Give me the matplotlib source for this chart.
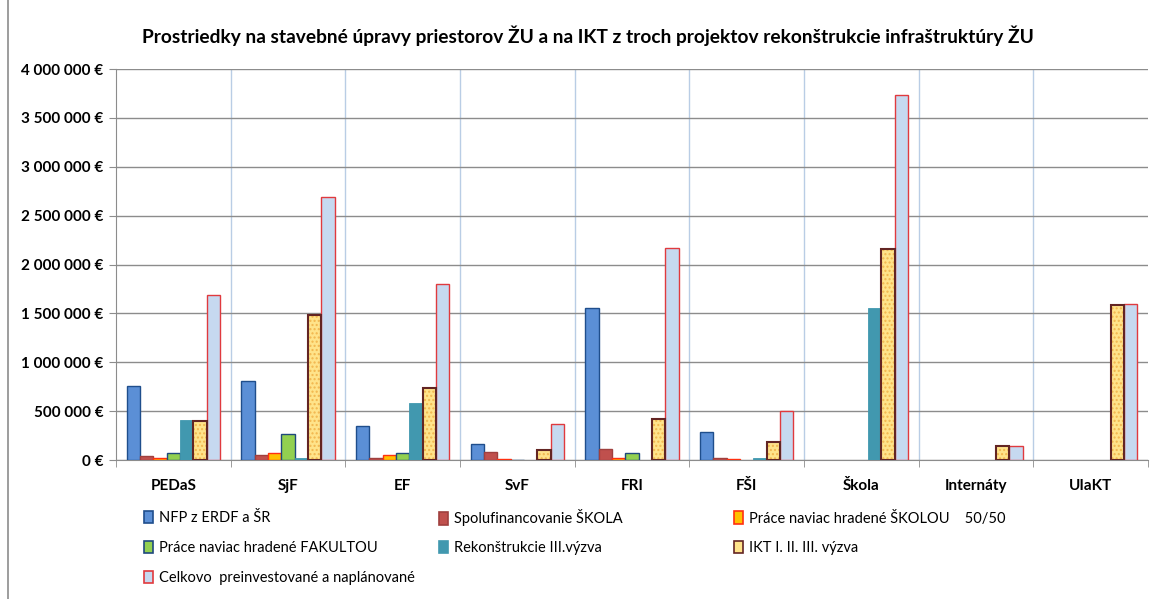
import matplotlib
matplotlib.use("Agg")
import matplotlib.pyplot as plt
import numpy as np
from matplotlib.ticker import FuncFormatter, MultipleLocator
from matplotlib.lines import Line2D

plt.rcParams['font.family'] = ['Lato', 'DejaVu Sans']

categories = ["PEDaS", "SjF", "EF", "SvF", "FRI", "FŠI", "Škola", "Internáty", "UIaKT"]
series_names = ["NFP z ERDF a ŠR", "Spolufinancovanie ŠKOLA",
                "Práce naviac hradené ŠKOLOU    50/50", "Práce naviac hradené FAKULTOU",
                "Rekonštrukcie III.výzva", "IKT I. II. III. výzva",
                "Celkovo  preinvestované a naplánované"]
nfp = [752000, 806000, 347000, 167000, 1558000, 286000, 0, 0, 0]
spolu = [41000, 51000, 24000, 85000, 109000, 17000, 0, 0, 0]
skola = [17000, 68000, 51000, 7000, 20000, 10000, 0, 0, 0]
fakulta = [68000, 265000, 68000, 5000, 68000, 0, 0, 0, 0]
rekon = [412000, 20000, 588000, 0, 0, 24000, 1551000, 0, 0]
ikt = [395000, 1480000, 735000, 105000, 415000, 180000, 2157000, 143000, 1585000]
celkovo = [1684000, 2690000, 1803000, 367000, 2169000, 500000, 3729000, 145000, 1592000]

series = [nfp, spolu, skola, fakulta, rekon, ikt, celkovo]
fills = ["#5B8FD6", "#C0504D", "#FFC000", "#92D050", "#4198AF", "#FFE38A", "#C6D9F0"]
edges = ["#1F4E8C", "#A0403E", "#FF3010", "#1F497D", "#4198AF", "#632523", "#E03A3E"]
lws = [1.0, 1.0, 1.0, 1.0, 0.6, 1.5, 1.0]

fig = plt.figure(figsize=(11.54, 5.99), dpi=100)
W, H = 1154, 599
ax = fig.add_axes([116 / W, 1 - 460 / H, (1148 - 116) / W, (460 - 69) / H])

x = np.arange(len(categories))
bw = 0.116
handles = []
for i, (vals, fc, ec, lw) in enumerate(zip(series, fills, edges, lws)):
    pos = x + (i - 3) * bw
    v = np.array(vals, dtype=float)
    mask = v > 0
    if i == 5:
        ax.bar(pos[mask], v[mask], bw, color=fc, edgecolor="#F2B64E", hatch="....",
               linewidth=0, zorder=3)
        ax.bar(pos[mask], v[mask], bw, fill=False, edgecolor=ec, linewidth=lw, zorder=4)
    else:
        ax.bar(pos[mask], v[mask], bw, color=fc, edgecolor=ec, linewidth=lw, zorder=3)
    handles.append(plt.Rectangle((0, 0), 1, 1, facecolor=fc, edgecolor=ec, linewidth=1.2))

ax.set_xlim(-0.5, len(categories) - 0.5)
ax.set_ylim(0, 4000000)
ax.yaxis.set_major_locator(MultipleLocator(500000))


def fmt(v, p):
    s = f"{int(v):,}".replace(",", " ")
    return f"{s} €"


ax.yaxis.set_major_formatter(FuncFormatter(fmt))
ax.grid(axis='y', color="#8C8C8C", linewidth=1.0, zorder=0)
for b in np.arange(0.5, len(categories) - 0.5, 1):
    ax.axvline(b, color="#B9CDE5", linewidth=1.0, zorder=0)

ax.set_xticks(x)
ax.set_xticklabels(categories, fontweight='bold', fontsize=11)
ax.tick_params(axis='x', length=0, pad=14)
ax.set_xticks(np.arange(-0.5, len(categories), 1), minor=True)
ax.tick_params(axis='x', which='minor', length=5, color="#8C8C8C")
ax.tick_params(axis='y', length=5, color="#8C8C8C", labelsize=11, pad=4)
for lab in ax.get_yticklabels():
    lab.set_fontweight('bold')
for s in ['top', 'right']:
    ax.spines[s].set_visible(False)
ax.spines['left'].set_color("#8C8C8C")
ax.spines['bottom'].set_color("#8C8C8C")

fig.text(588 / W, 1 - 36 / H,
         "Prostriedky na stavebné úpravy priestorov ŽU a na IKT z troch projektov rekonštrukcie infraštruktúry ŽU",
         ha='center', va='center', fontsize=13.8, fontweight='bold')

# legend entries placed in a 3-column grid (row-major order)
colx = [144, 439, 734]
rowy = [518, 548, 578]
for k in range(len(series_names)):
    r, c = divmod(k, 3)
    leg = fig.legend([handles[k]], [series_names[k]],
                     loc='center left', bbox_to_anchor=(colx[c] / W, 1 - rowy[r] / H),
                     frameon=False, fontsize=10.5, handlelength=0.6, handleheight=0.9,
                     handletextpad=0.4, borderaxespad=0, borderpad=0)

fig.add_artist(Line2D([8 / W, 8 / W], [0, 1], color="#8C8C8C", linewidth=1.2,
                      transform=fig.transFigure))

fig.savefig("out.png", dpi=100)
